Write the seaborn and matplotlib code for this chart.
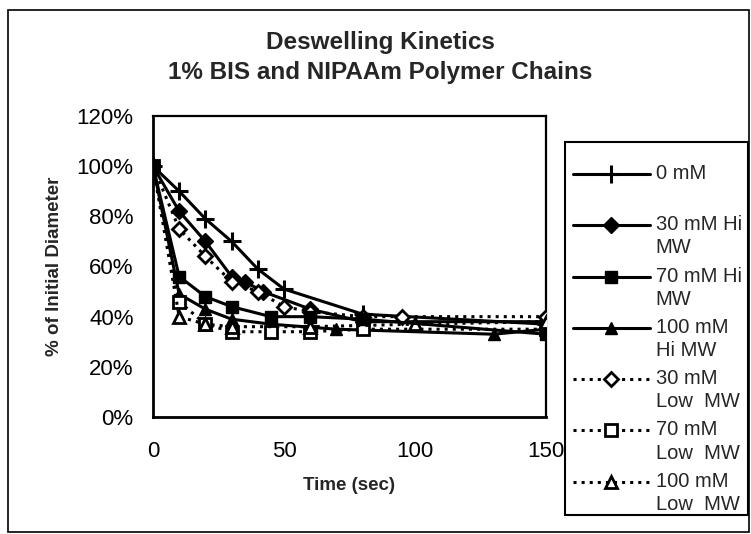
import numpy as np
import pandas as pd
import matplotlib
matplotlib.use("Agg")
import matplotlib.pyplot as plt
import seaborn as sns
from matplotlib.patches import Rectangle

sns.set_style("white")
plt.rcParams['font.family'] = ['Liberation Sans', 'DejaVu Sans']

# ---- data ----
t_0mM = [0, 10, 20, 30, 40, 50, 80, 150]
y_0mM = [100, 90, 79, 70, 59, 51, 41, 37]

t_30hi = [0, 10, 20, 30, 35, 42, 60, 80, 150]
y_30hi = [100, 82, 70, 56, 54, 50, 43, 38, 38]

t_70hi = [0, 10, 20, 30, 45, 60, 80, 150]
y_70hi = [100, 56, 48, 44, 40, 40, 39, 33]

t_100hi = [0, 10, 20, 30, 45, 70, 130, 150]
y_100hi = [100, 49, 43, 39, 37, 35, 33, 35]

t_30lo = [0, 10, 20, 30, 40, 50, 60, 80, 95, 150]
y_30lo = [100, 75, 64, 54, 50, 44, 42, 40, 40, 40]

t_70lo = [0, 10, 20, 30, 45, 60, 80, 150]
y_70lo = [100, 46, 37, 34, 34, 34, 35, 35]

t_100lo = [0, 10, 20, 30, 60, 100, 150]
y_100lo = [100, 40, 37, 36, 36, 37, 38]

labels = ["0 mM\n ", "30 mM Hi\nMW", "70 mM Hi\nMW", "100 mM\nHi MW",
          "30 mM\nLow  MW", "70 mM\nLow  MW", "100 mM\nLow  MW"]
x_ticks = [0, 50, 100, 150]
y_ticks = [0, 20, 40, 60, 80, 100, 120]

series = [
    (t_0mM, y_0mM, dict(marker="+", linestyle="-", mfc="black", ms=13, mew=2.2, z=3)),
    (t_30hi, y_30hi, dict(marker="D", linestyle="-", mfc="black", ms=8, z=3)),
    (t_70hi, y_70hi, dict(marker="s", linestyle="-", mfc="black", ms=9, z=5)),
    (t_100hi, y_100hi, dict(marker="^", linestyle="-", mfc="black", ms=9, z=3)),
    (t_30lo, y_30lo, dict(marker="D", linestyle=":", mfc="white", ms=7, mew=2, z=3)),
    (t_70lo, y_70lo, dict(marker="s", linestyle=":", mfc="white", ms=8, mew=2, z=3)),
    (t_100lo, y_100lo, dict(marker="^", linestyle=":", mfc="white", ms=8, mew=2, z=3)),
]

W, H = 751, 534
fig = plt.figure(figsize=(W / 100, H / 100), dpi=100)
ax = fig.add_axes([0.2037, 0.2191, 0.727 - 0.2037, 0.7828 - 0.2191])

for (t, y, st), lab in zip(series, labels):
    df = pd.DataFrame({"t": t, "y": y})
    sns.lineplot(data=df, x="t", y="y", ax=ax, color="black", linewidth=2.2,
                 estimator=None, sort=False, label=lab, zorder=st["z"],
                 marker=st["marker"], linestyle=st["linestyle"],
                 markerfacecolor=st["mfc"], markeredgecolor="black",
                 markersize=st["ms"], markeredgewidth=st.get("mew", 1.0))

ax.set_xlim(0, 150)
ax.set_ylim(0, 120)
ax.set_xticks(x_ticks)
ax.set_yticks(y_ticks)
ax.set_yticklabels([f"{v}%" for v in y_ticks])
ax.tick_params(direction="inout", length=8, width=1.5, labelsize=16, colors="black", pad=10)
ax.tick_params(axis="x", pad=13)
for s in ax.spines.values():
    s.set_color("black")
    s.set_linewidth(1.6)
ax.spines["left"].set_linewidth(2)
ax.spines["bottom"].set_linewidth(2)

ax.set_xlabel("Time (sec)", fontsize=13.5, fontweight="bold", labelpad=11)
ax.set_ylabel("% of Initial Diameter", fontsize=13.5, fontweight="bold", labelpad=10)

fig.text(0.506, 0.92, "Deswelling Kinetics", ha="center", va="center",
         fontsize=17.5, fontweight="bold")
fig.text(0.506, 0.865, "1% BIS and NIPAAm Polymer Chains", ha="center", va="center",
         fontsize=17.5, fontweight="bold")

# legend entries (frameless); the box is drawn separately
leg = ax.legend(loc="upper left", bbox_to_anchor=(573 / W, 1 - 164 / H),
                bbox_transform=fig.transFigure, frameon=False,
                fontsize=14.5, handlelength=3.8,
                handletextpad=0.3, labelspacing=0.45, borderpad=0,
                borderaxespad=0)
for txt in leg.get_texts():
    txt.set_linespacing(1.28)
# align each handle with the first line of its two-line label
for ln in leg.get_lines():
    ln.set_ydata(np.asarray(ln.get_ydata(), dtype=float) + 8.3)

# legend box
fig.patches.append(Rectangle((565 / W, 1 - 515 / H), (748 - 565) / W, (515 - 142) / H,
                             transform=fig.transFigure, fill=False,
                             edgecolor="black", linewidth=1.5))
# outer chart border
fig.patches.append(Rectangle((0.011, 0.003), 0.986, 0.978, transform=fig.transFigure,
                             fill=False, edgecolor="black", linewidth=1.2))

fig.savefig("out.png", dpi=100)
